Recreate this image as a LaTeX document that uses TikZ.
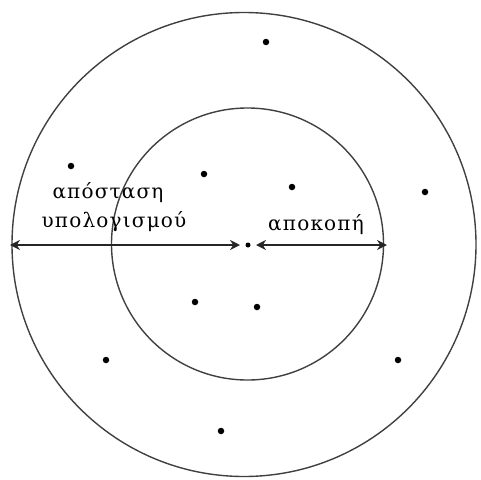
\documentclass[tikz,border=0pt]{standalone}
\usepackage{fontspec}
\setmainfont{Liberation Serif}
\newfontfamily\lblfont[LetterSpace=6]{DejaVu Serif}
\usetikzlibrary{arrows.meta}
\begin{document}
\begin{tikzpicture}[x=1pt,y=-1pt,
  ring/.style={draw=black!75,line width=1.4pt},
  pt/.style={circle,fill=black,inner sep=0pt,minimum size=6.5pt},
  measure/.style={draw=black!85,line width=1.7pt,{Stealth[length=10pt,width=10pt]}-{Stealth[length=10pt,width=10pt]}},
  lbl/.style={font=\lblfont\fontsize{20}{24}\selectfont,inner sep=0pt}]
\useasboundingbox (0,0) rectangle (481,479);
\draw[ring] (244,244.5) circle (232);
\draw[ring] (247.5,244) circle (136);
\coordinate (L) at (10,245);
\coordinate (R) at (387,245);
\node[circle,fill=black,inner sep=0pt,minimum size=5pt] (c) at (248,245) {};
\coordinate (cl) at (240,245);
\coordinate (cr) at (256,245);
\draw[measure] (L) -- (cl);
\draw[measure] (cr) -- (R);
\node[pt] (p1) at (266,42) {};
\node[pt] (p2) at (71,166) {};
\node[pt] (p3) at (204,174) {};
\node[pt] (p4) at (292,187) {};
\node[pt] (p5) at (425,192) {};
\node[pt] (p6) at (195,302) {};
\node[pt] (p7) at (257,307) {};
\node[pt] (p8) at (106,360) {};
\node[pt] (p9) at (398,360) {};
\node[pt] (p10) at (221,431) {};
\node[lbl] (t1) at (108,193) {απόσταση};
\node[lbl] (t2) at (114,222) {υπολογισμού};
\node[lbl] (t3) at (316,225) {αποκοπή};
\end{tikzpicture}
\end{document}
